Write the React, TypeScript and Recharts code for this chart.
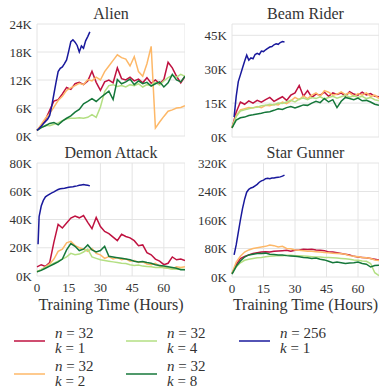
import { CartesianGrid, Line, LineChart, XAxis, YAxis } from "recharts";

// hours for the n=32 runs, every 2 hours
const hours = [
  0, 2, 4, 6, 8, 10, 12, 14, 16, 18, 20, 22, 24, 26, 28, 30, 32, 34, 36, 38, 40,
  42, 44, 46, 48, 50, 52, 54, 56, 58, 60, 62, 64, 66, 68, 70,
];
const blueHours = [
  1, 2, 3, 4, 5, 6, 7, 8, 9, 10, 11, 12, 13, 14, 15, 16, 17, 18, 19, 20, 21, 22,
  23, 24, 25,
];
const alienBlueHours = [0, ...blueHours];
const demonBlueHours = [0.5, ...blueHours];

const xTicks = [0, 15, 30, 45, 60];

// Alien (K)
const alienTicks = [0, 6, 12, 18, 24];
const alienK1 = [1.2, 2.2, 3.5, 5.5, 7.5, 7.8, 9.0, 10.4, 10.0, 11.2, 11.5, 11.0, 11.8, 13.9, 11.5, 9.8, 11.6, 12.0, 11.4, 14.6, 12.3, 12.0, 12.6, 11.8, 12.2, 11.4, 12.5, 11.3, 12.0, 11.2, 12.1, 15.8, 14.6, 12.8, 11.4, 12.8];
const alienK2 = [1.2, 2.5, 3.8, 4.8, 6.2, 7.6, 8.5, 9.8, 10.3, 10.8, 11.3, 11.0, 12.1, 11.8, 12.6, 12.0, 13.8, 15.0, 16.2, 17.4, 16.8, 16.5, 15.0, 17.0, 13.8, 12.8, 15.5, 19.2, 1.7, 3.0, 4.2, 5.3, 5.6, 6.0, 6.1, 6.5];
const alienK4 = [1.2, 1.8, 2.3, 2.2, 2.5, 2.8, 3.3, 3.7, 3.8, 3.8, 3.9, 3.8, 4.0, 4.6, 4.0, 6.2, 9.5, 10.8, 11.0, 10.6, 10.8, 10.5, 11.0, 10.8, 11.2, 10.5, 11.0, 10.8, 11.5, 10.9, 11.8, 12.5, 13.0, 12.6, 13.2, 12.8];
const alienK8 = [1.2, 1.8, 2.2, 2.7, 2.9, 2.4, 3.2, 3.8, 4.3, 5.1, 5.7, 6.9, 7.4, 8.0, 7.4, 8.2, 8.9, 9.6, 7.8, 12.1, 11.2, 11.6, 12.2, 11.0, 11.8, 11.2, 11.5, 10.7, 11.2, 11.6, 10.5, 11.4, 13.2, 12.0, 11.6, 12.8];
const alienN256 = [1.2, 1.6, 2.1, 2.6, 3.1, 3.6, 4.4, 6.5, 9.0, 11.5, 13.8, 14.5, 14.8, 15.5, 16.3, 18.2, 20.2, 20.6, 20.1, 19.4, 18.0, 19.3, 18.8, 20.4, 21.3, 22.3];

// Beam Rider (K)
const beamTicks = [0, 15, 30, 45];
const beamK1 = [4, 11, 15.5, 14.5, 16.0, 15.0, 16.2, 15.4, 16.5, 17.5, 15.8, 16.8, 17.8, 16.2, 18.5, 19.5, 22.8, 18.0, 20.5, 17.5, 19.0, 18.5, 19.8, 18.0, 19.5, 18.8, 19.5, 18.0, 20.0, 19.0, 18.5, 19.8, 18.6, 19.2, 18.0, 17.8];
const beamK2 = [4.2, 9.5, 12.0, 12.5, 13.0, 12.8, 13.5, 13.0, 14.0, 13.8, 14.5, 14.2, 15.5, 14.8, 16.0, 17.5, 16.5, 18.2, 17.0, 18.5, 19.5, 18.0, 20.5, 19.8, 18.5, 19.0, 20.0, 18.8, 19.5, 18.0, 19.2, 18.5, 19.5, 18.0, 18.5, 17.0];
const beamK4 = [4.0, 9.0, 11.5, 12.0, 12.5, 13.0, 13.2, 13.8, 14.0, 14.5, 14.2, 15.0, 14.8, 15.5, 16.2, 15.5, 16.8, 17.2, 16.5, 17.5, 17.0, 17.8, 16.8, 17.5, 18.0, 17.2, 17.8, 18.5, 17.6, 18.2, 17.5, 18.0, 17.0, 17.5, 16.5, 16.0];
const beamK8 = [4.0, 7.5, 8.5, 8.8, 9.5, 9.8, 10.2, 10.5, 11.0, 11.2, 11.8, 12.5, 12.2, 13.0, 13.5, 12.8, 13.5, 14.2, 14.0, 15.0, 15.8, 15.2, 17.0, 15.5, 16.5, 13.0, 15.8, 17.5, 17.0, 16.5, 17.2, 16.0, 16.2, 15.5, 14.5, 14.0];
const beamN256 = [8.8, 18.0, 24.5, 27.5, 30.5, 33.5, 36.2, 34.0, 35.0, 34.6, 36.5, 37.0, 36.5, 38.0, 37.8, 38.6, 39.2, 39.8, 40.0, 40.8, 41.2, 41.0, 41.8, 42.2, 42.0];

// Demon Attack (K)
const demonTicks = [0, 20, 40, 60, 80];
const demonK1 = [6.5, 8.0, 6.8, 9.5, 24.0, 36.5, 34.0, 37.5, 41.0, 42.5, 41.2, 42.8, 38.0, 33.5, 41.5, 35.0, 31.5, 30.0, 27.5, 25.0, 29.5, 28.0, 27.0, 25.0, 21.5, 22.0, 16.5, 15.0, 12.0, 10.5, 8.0, 9.0, 13.5, 11.5, 12.0, 11.0];
const demonK2 = [3.0, 4.5, 6.5, 8.5, 12.0, 17.5, 19.0, 23.5, 24.5, 21.5, 20.0, 19.0, 17.5, 19.5, 16.0, 15.0, 12.5, 13.8, 12.0, 13.0, 11.5, 12.2, 10.5, 11.0, 9.5, 10.0, 8.5, 8.0, 9.0, 7.0, 6.0, 5.5, 5.0, 6.5, 6.0, 6.5];
const demonK4 = [3.0, 4.5, 6.0, 7.5, 9.0, 10.5, 12.0, 13.5, 16.0, 15.0, 15.5, 17.0, 19.0, 13.5, 12.5, 11.5, 11.0, 10.5, 10.0, 9.5, 9.0, 8.8, 8.0, 7.5, 7.8, 7.0, 6.8, 6.5, 6.0, 6.2, 5.8, 5.5, 5.0, 4.8, 5.0, 4.6];
const demonK8 = [3.0, 4.0, 5.5, 7.0, 8.5, 10.0, 12.0, 18.5, 23.0, 21.0, 18.0, 19.0, 22.0, 18.5, 17.0, 18.0, 21.0, 14.0, 13.5, 13.0, 12.5, 12.0, 11.5, 10.5, 10.0, 10.2, 9.5, 9.0, 8.0, 7.5, 7.0, 6.5, 6.0, 5.5, 4.5, 4.5];
const demonN256 = [22.5, 42, 49.5, 53.5, 56, 57, 58, 58.8, 59.5, 60.5, 61.2, 61.8, 62, 62.2, 62.5, 62.8, 63, 63.2, 63.5, 63.8, 64.2, 64.5, 64.8, 64.5, 64.2, 63.8];

// Star Gunner (K)
const starTicks = [0, 80, 160, 240, 320];
const starK1 = [10, 35, 52, 58, 62, 66, 68, 70, 71, 70, 72, 73, 74, 75, 72, 75, 76, 78, 77, 78, 76, 75, 74, 70, 70, 68, 66, 64, 62, 58, 56, 55, 54, 52, 50, 48];
const starK2 = [10, 42, 58, 70, 76, 80, 82, 84, 86, 90, 88, 84, 86, 80, 79, 76, 75, 74, 72, 72, 71, 70, 69, 68, 67, 66, 65, 64, 60, 58, 57, 55, 54, 52, 48, 46];
const starK4 = [10, 28, 40, 47, 50, 52, 54, 55, 57, 58, 59, 60, 60, 61, 61, 60, 60, 59, 58, 57, 56, 56, 55, 55, 54, 53, 52, 51, 50, 48, 47, 45, 44, 38, 12, 4];
const starK8 = [8, 30, 45, 56, 62, 64, 66, 66, 67, 64, 63, 62, 62, 60, 59, 58, 57, 55, 54, 52, 53, 50, 48, 44, 40, 42, 40, 38, 39, 40, 42, 38, 36, 28, 32, 33];
const starN256 = [62, 90, 125, 160, 192, 218, 238, 246, 250, 252, 256, 260, 266, 270, 272, 276, 277, 276, 278, 278, 279, 280, 281, 283, 286];

const RED = "#bf1240";
const ORANGE = "#fdb868";
const LIGHT = "#b3df83";
const DARK = "#15773a";
const BLUE = "#19199c";

const FONT =
  '"Liberation Serif", "DejaVu Serif", "Noto Serif", "Times New Roman", Times, FreeSerif, serif';

const zip = (xs: number[], ys: number[]) => ys.map((y, i) => ({ x: xs[i], y }));

type Series = { color: string; xs: number[]; ys: number[] };

function Panel({
  title,
  left,
  top,
  width,
  height,
  yWidth,
  plotTop,
  xHeight,
  yMax,
  yTicks,
  series,
  showX,
}: {
  title: string;
  left: number;
  top: number;
  width: number;
  height: number;
  yWidth: number;
  plotTop: number;
  xHeight: number;
  yMax: number;
  yTicks: number[];
  series: Series[];
  showX: boolean;
}) {
  const plotLeft = left + yWidth;
  const plotWidth = width - yWidth;
  return (
    <>
      <div
        style={{
          position: "absolute",
          left: plotLeft,
          top: top + plotTop - 19,
          width: plotWidth,
          textAlign: "center",
          fontFamily: FONT,
          fontSize: 16,
          lineHeight: "18px",
          color: "#333",
        }}
      >
        {title}
      </div>
      <div style={{ position: "absolute", left, top }}>
        <LineChart
          width={width}
          height={height}
          style={{ fontFamily: FONT }}
          margin={{ top: plotTop, right: 0, bottom: 0, left: 0 }}
        >
          <CartesianGrid stroke="#e4e4e4" strokeWidth={1} />
          <XAxis
            type="number"
            dataKey="x"
            domain={[0, 70]}
            ticks={xTicks}
            height={xHeight}
            axisLine={false}
            tickLine={false}
            tickSize={0}
            tickMargin={7}
            tick={showX ? { fill: "#333", fontSize: 13, fontFamily: FONT } : false}
            interval={0}
          />
          <YAxis
            type="number"
            domain={[0, yMax]}
            ticks={yTicks}
            width={yWidth}
            axisLine={false}
            tickLine={false}
            tickSize={0}
            tickMargin={5}
            interval={0}
            tickFormatter={(v: number) => `${v}K`}
            tick={{ fill: "#333", fontSize: 13, fontFamily: FONT }}
          />
          {series.map((s, i) => (
            <Line
              key={i}
              data={zip(s.xs, s.ys)}
              dataKey="y"
              type="linear"
              stroke={s.color}
              strokeWidth={1.5}
              dot={false}
              isAnimationActive={false}
            />
          ))}
        </LineChart>
      </div>
      {showX && (
        <div
          style={{
            position: "absolute",
            left: plotLeft,
            top: top + height - 19,
            width: plotWidth,
            textAlign: "center",
            fontFamily: FONT,
            fontSize: 16,
            lineHeight: "18px",
            color: "#333",
          }}
        >
          Training Time (Hours)
        </div>
      )}
    </>
  );
}

const legendItems = [
  { color: RED, n: "32", k: "1", left: 14, top: 326 },
  { color: ORANGE, n: "32", k: "2", left: 14, top: 359 },
  { color: LIGHT, n: "32", k: "4", left: 126, top: 326 },
  { color: DARK, n: "32", k: "8", left: 126, top: 359 },
  { color: BLUE, n: "256", k: "1", left: 239, top: 326 },
];

export default function App() {
  const make = (k1: number[], k2: number[], k4: number[], k8: number[], n256: number[], bh: number[]): Series[] => [
    { color: RED, xs: hours, ys: k1 },
    { color: ORANGE, xs: hours, ys: k2 },
    { color: LIGHT, xs: hours, ys: k4 },
    { color: DARK, xs: hours, ys: k8 },
    { color: BLUE, xs: bh, ys: n256 },
  ];
  return (
    <div
      style={{
        position: "absolute",
        left: 0,
        top: 0,
        width: 379,
        height: 388,
        overflow: "hidden",
        background: "#fff",
      }}
    >
      <Panel title="Alien" left={0} top={0} width={185} height={150} yWidth={37} plotTop={24} xHeight={14} yMax={24} yTicks={alienTicks} series={make(alienK1, alienK2, alienK4, alienK8, alienN256, alienBlueHours)} showX={false} />
      <Panel title="Beam Rider" left={190} top={0} width={189} height={150} yWidth={42} plotTop={24} xHeight={13} yMax={50} yTicks={beamTicks} series={make(beamK1, beamK2, beamK4, beamK8, beamN256, blueHours)} showX={false} />
      <Panel title="Demon Attack" left={0} top={140} width={185} height={175} yWidth={37} plotTop={23} xHeight={39} yMax={80} yTicks={demonTicks} series={make(demonK1, demonK2, demonK4, demonK8, demonN256, demonBlueHours)} showX={true} />
      <Panel title="Star Gunner" left={190} top={140} width={189} height={175} yWidth={42} plotTop={23} xHeight={38} yMax={320} yTicks={starTicks} series={make(starK1, starK2, starK4, starK8, starN256, blueHours)} showX={true} />
      {legendItems.map((it) => (
        <div key={it.color} style={{ position: "absolute", left: it.left, top: it.top }}>
          <div
            style={{
              position: "absolute",
              left: 0,
              top: 14,
              width: 31,
              height: 2,
              background: it.color,
              opacity: 0.75,
            }}
          />
          <div
            style={{
              position: "absolute",
              left: 41,
              top: 0,
              fontFamily: FONT,
              fontSize: 15,
              lineHeight: "15px",
              color: "#333",
              whiteSpace: "nowrap",
            }}
          >
            <div>
              <i>n</i> = {it.n}
            </div>
            <div>
              <i>k</i> = {it.k}
            </div>
          </div>
        </div>
      ))}
    </div>
  );
}
